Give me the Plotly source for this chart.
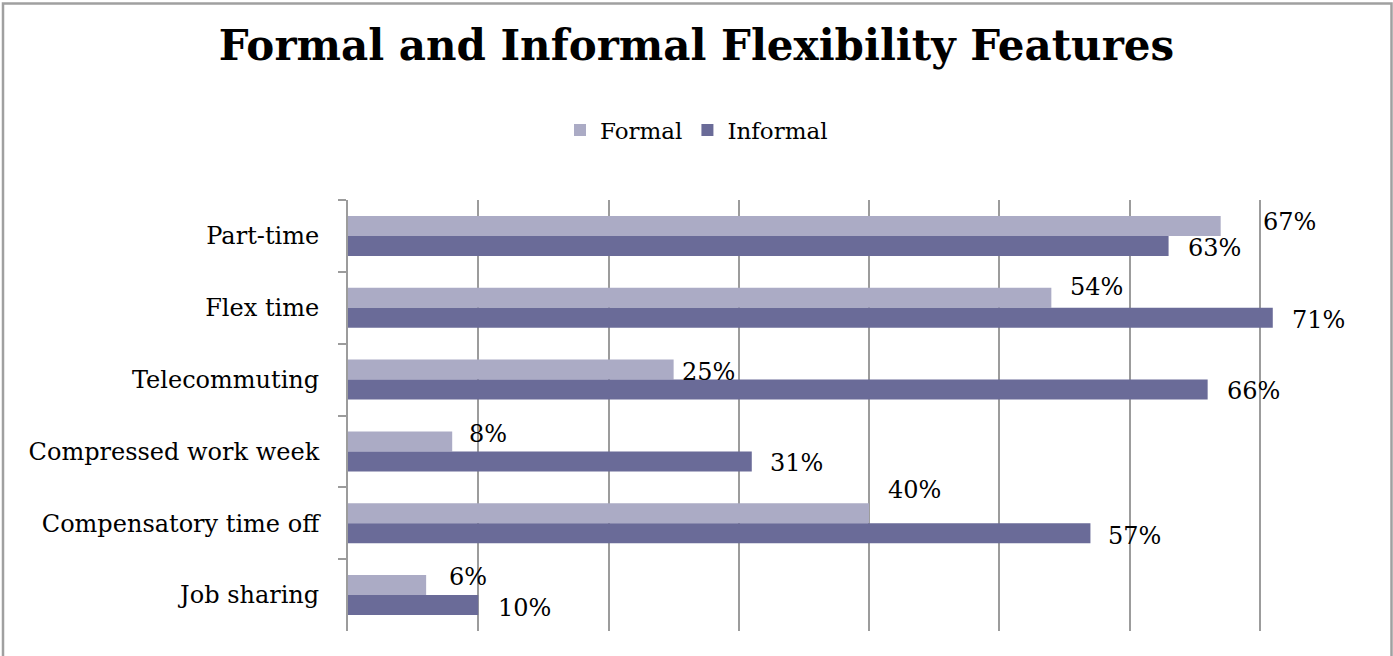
import plotly.graph_objects as go

CATEGORIES = ["Part-time", "Flex time", "Telecommuting", "Compressed work week",
              "Compensatory time off", "Job sharing"]
FORMAL = [67, 54, 25, 8, 40, 6]
INFORMAL = [63, 71, 66, 31, 57, 10]
SERIES_NAMES = ["Formal", "Informal"]
TITLE = "Formal and Informal Flexibility Features"

# label nudges (style only): horizontal gap from bar end, vertical offset (px, down +)
FORMAL_GAP = [40, 17, 6, 15, 17, 21]
FORMAL_DY = [-3.5, -10.5, 2, -7, -23.5, -8]
INFORMAL_GAP = [17, 17, 17, 16, 16, 18]
INFORMAL_DY = [2, 2.5, 1.5, 1.5, 2.5, 2.5]

FONT = "DejaVu Serif"
C_FORMAL = "#ABABC5"
C_INFORMAL = "#6A6B98"
GRID = "#9C9C9C"

W, H = 1393, 656
ML, MR, MT, MB = 348, 3, 200, 25
PW, PH = W - ML - MR, H - MT - MB

fig = go.Figure()
fig.add_trace(go.Bar(y=CATEGORIES, x=FORMAL, name=SERIES_NAMES[0], orientation="h",
                     marker=dict(color=C_FORMAL, line=dict(width=0))))
fig.add_trace(go.Bar(y=CATEGORIES, x=INFORMAL, name=SERIES_NAMES[1], orientation="h",
                     marker=dict(color=C_INFORMAL, line=dict(width=0))))

annotations = []
for cat, v, g, dy in zip(CATEGORIES, FORMAL, FORMAL_GAP, FORMAL_DY):
    annotations.append(dict(x=v, y=cat, xref="x", yref="y", text=f"{v}%", showarrow=False,
                            xanchor="left", yanchor="middle", xshift=g, yshift=10 - dy,
                            font=dict(family=FONT, size=24, color="black")))
for cat, v, g, dy in zip(CATEGORIES, INFORMAL, INFORMAL_GAP, INFORMAL_DY):
    annotations.append(dict(x=v, y=cat, xref="x", yref="y", text=f"{v}%", showarrow=False,
                            xanchor="left", yanchor="middle", xshift=g, yshift=-10 - dy,
                            font=dict(family=FONT, size=24, color="black")))

# outer chart border
bx0, bx1 = (3 - ML) / PW, (1391.5 - ML) / PW
by1, by0 = (H - 3.5 - MB) / PH, (-20 - MB) / PH

fig.update_layout(
    width=W, height=H,
    margin=dict(l=ML, r=MR, t=MT, b=MB),
    paper_bgcolor="white", plot_bgcolor="white",
    barmode="group", bargap=0.444, bargroupgap=0,
    title=dict(text=f"<b>{TITLE}</b>", x=0.5, xref="container", xanchor="center",
               y=1 - 45 / H, yref="container", yanchor="middle",
               font=dict(family=FONT, size=42, color="black")),
    legend=dict(orientation="h", x=0.5, xref="container", xanchor="center",
                y=1 - 130 / H, yref="container", yanchor="middle",
                font=dict(family=FONT, size=23, color="black"),
                traceorder="normal", itemclick=False),
    xaxis=dict(range=[0, 80], dtick=10, tick0=0, showticklabels=False, ticks="",
               showgrid=True, gridcolor=GRID, gridwidth=2, zeroline=False, showline=False,
               fixedrange=True),
    yaxis=dict(autorange="reversed", showline=True, linecolor=GRID, linewidth=2,
               ticks="outside", tickson="boundaries", ticklen=8, tickcolor=GRID, tickwidth=2,
               showgrid=False, zeroline=False, ticklabelstandoff=22,
               tickfont=dict(family=FONT, size=24, color="black"), fixedrange=True),
    annotations=annotations,
    shapes=[dict(type="rect", xref="paper", yref="paper", x0=bx0, x1=bx1, y0=by0, y1=by1,
                 line=dict(color="#A0A0A0", width=2.5), fillcolor="rgba(0,0,0,0)", layer="below")],
    showlegend=True,
)

fig.write_html("out.html", config={"displayModeBar": False},
               post_script="document.body.style.margin='0';document.body.style.overflow='hidden';")
